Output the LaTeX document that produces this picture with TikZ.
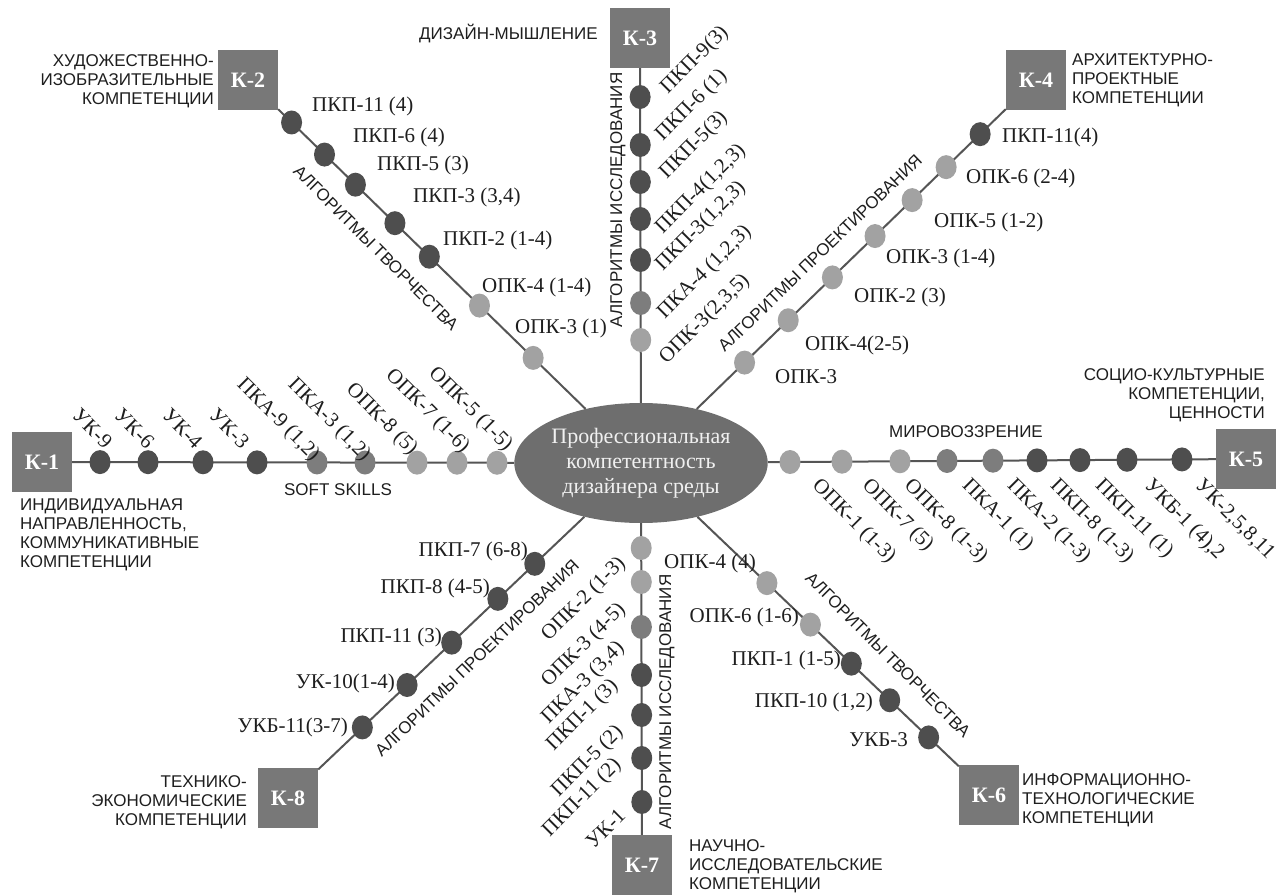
\documentclass[tikz,border=0pt]{standalone}
\usepackage{fontspec}
\setmainfont{Liberation Serif}
\newfontfamily\capfont{Liberation Sans}
\usetikzlibrary{shapes.geometric,calc}
\definecolor{boxgray}{HTML}{787878}
\definecolor{ellgray}{HTML}{6E6E6E}
\definecolor{linegray}{HTML}{555555}
\definecolor{dk}{HTML}{4E4E4E}
\definecolor{md}{HTML}{7D7D7D}
\definecolor{lt}{HTML}{A2A2A2}
\definecolor{txt}{HTML}{1E1E1E}
\tikzset{
  kbox/.style={rectangle, fill=boxgray, minimum width=60pt, minimum height=60pt, inner sep=0pt, text=white, font=\fontsize{22}{22}\selectfont\bfseries},
  hub/.style={ellipse, fill=ellgray, minimum width=238pt, minimum height=120pt, inner sep=0pt, text=white!94!black, align=center, font=\fontsize{22}{25}\selectfont},
  conn/.style={draw=linegray, line width=2pt},
  cdot/.style={ellipse, minimum width=21pt, minimum height=24pt, inner sep=0pt},
  lab/.style={inner sep=0pt, text=txt, font=\fontsize{21}{23}\selectfont},
  captxt/.style={inner sep=0pt, text=txt, font=\capfont\fontsize{17}{19}\selectfont},
  rl/.style={lab, rotate=-45},
  ru/.style={lab, rotate=45}
}
\begin{document}
\begin{tikzpicture}[x=1pt,y=-1pt]
\useasboundingbox (0,0) rectangle (1288,896);
% central node and boxes
\node[hub] (c) at (641,463) {Профессиональная\\компетентность\\дизайнера среды};
\node[kbox] (k1) at (42,462) {К-1};
\node[kbox] (k2) at (248,80) {К-2};
\node[kbox] (k3) at (640,38) {К-3};
\node[kbox] (k4) at (1036,80) {К-4};
\node[kbox] (k5) at (1246,459) {К-5};
\node[kbox] (k6) at (989,795) {К-6};
\node[kbox] (k7) at (642,865) {К-7};
\node[kbox] (k8) at (288,798) {К-8};
% connectors
\draw[conn] (c) -- (k1);
\draw[conn] (c) -- (k2);
\draw[conn] (c) -- (k3);
\draw[conn] (c) -- (k4);
\draw[conn] (c) -- (k5);
\draw[conn] (c) -- (k6);
\draw[conn] (c) -- (k7);
\draw[conn] (c) -- (k8);
% K-1 dots
\node[cdot,fill=dk] (d1a) at ($(c)!(100,462)!(k1)$) {};
\node[cdot,fill=dk] (d1b) at ($(c)!(148,462)!(k1)$) {};
\node[cdot,fill=dk] (d1c) at ($(c)!(203,462)!(k1)$) {};
\node[cdot,fill=dk] (d1d) at ($(c)!(257,462)!(k1)$) {};
\node[cdot,fill=md] (d1e) at ($(c)!(317,462)!(k1)$) {};
\node[cdot,fill=md] (d1f) at ($(c)!(365,462)!(k1)$) {};
\node[cdot,fill=lt] (d1g) at ($(c)!(417,462)!(k1)$) {};
\node[cdot,fill=lt] (d1h) at ($(c)!(457,462)!(k1)$) {};
\node[cdot,fill=lt] (d1i) at ($(c)!(497,462)!(k1)$) {};
% K-2 dots
\node[cdot,fill=dk] (d2a) at ($(c)!(292,122)!(k2)$) {};
\node[cdot,fill=dk] (d2b) at ($(c)!(325,154)!(k2)$) {};
\node[cdot,fill=dk] (d2c) at ($(c)!(356,184)!(k2)$) {};
\node[cdot,fill=dk] (d2d) at ($(c)!(397,221)!(k2)$) {};
\node[cdot,fill=dk] (d2e) at ($(c)!(429,257)!(k2)$) {};
\node[cdot,fill=lt] (d2f) at ($(c)!(480,305)!(k2)$) {};
\node[cdot,fill=lt] (d2g) at ($(c)!(533,358)!(k2)$) {};
% K-3 dots
\node[cdot,fill=dk] (d3a) at ($(c)!(640,97)!(k3)$) {};
\node[cdot,fill=dk] (d3b) at ($(c)!(640,145)!(k3)$) {};
\node[cdot,fill=dk] (d3c) at ($(c)!(640,182)!(k3)$) {};
\node[cdot,fill=dk] (d3d) at ($(c)!(640,219)!(k3)$) {};
\node[cdot,fill=dk] (d3e) at ($(c)!(640,260)!(k3)$) {};
\node[cdot,fill=md] (d3f) at ($(c)!(640,303)!(k3)$) {};
\node[cdot,fill=lt] (d3g) at ($(c)!(640,340)!(k3)$) {};
% K-4 dots
\node[cdot,fill=dk] (d4a) at ($(c)!(981,135)!(k4)$) {};
\node[cdot,fill=lt] (d4b) at ($(c)!(947,168)!(k4)$) {};
\node[cdot,fill=lt] (d4c) at ($(c)!(914,202)!(k4)$) {};
\node[cdot,fill=lt] (d4d) at ($(c)!(876,237)!(k4)$) {};
\node[cdot,fill=lt] (d4e) at ($(c)!(833,278)!(k4)$) {};
\node[cdot,fill=lt] (d4f) at ($(c)!(788,320)!(k4)$) {};
\node[cdot,fill=lt] (d4g) at ($(c)!(744,362)!(k4)$) {};
% K-5 dots
\node[cdot,fill=lt] (d5a) at ($(c)!(790,459)!(k5)$) {};
\node[cdot,fill=lt] (d5b) at ($(c)!(842,459)!(k5)$) {};
\node[cdot,fill=lt] (d5c) at ($(c)!(900,459)!(k5)$) {};
\node[cdot,fill=md] (d5d) at ($(c)!(947,459)!(k5)$) {};
\node[cdot,fill=md] (d5e) at ($(c)!(993,459)!(k5)$) {};
\node[cdot,fill=dk] (d5f) at ($(c)!(1037,459)!(k5)$) {};
\node[cdot,fill=dk] (d5g) at ($(c)!(1080,459)!(k5)$) {};
\node[cdot,fill=dk] (d5h) at ($(c)!(1127,459)!(k5)$) {};
\node[cdot,fill=dk] (d5i) at ($(c)!(1182,459)!(k5)$) {};
% K-6 dots
\node[cdot,fill=lt] (d6a) at ($(c)!(768,582)!(k6)$) {};
\node[cdot,fill=lt] (d6b) at ($(c)!(812,623)!(k6)$) {};
\node[cdot,fill=dk] (d6c) at ($(c)!(852,663)!(k6)$) {};
\node[cdot,fill=dk] (d6d) at ($(c)!(890,700)!(k6)$) {};
\node[cdot,fill=dk] (d6e) at ($(c)!(931,735)!(k6)$) {};
% K-7 dots
\node[cdot,fill=lt] (d7a) at ($(c)!(642,548)!(k7)$) {};
\node[cdot,fill=lt] (d7b) at ($(c)!(642,582)!(k7)$) {};
\node[cdot,fill=md] (d7c) at ($(c)!(642,627)!(k7)$) {};
\node[cdot,fill=dk] (d7d) at ($(c)!(642,675)!(k7)$) {};
\node[cdot,fill=dk] (d7e) at ($(c)!(642,715)!(k7)$) {};
\node[cdot,fill=dk] (d7f) at ($(c)!(642,758)!(k7)$) {};
\node[cdot,fill=dk] (d7g) at ($(c)!(642,802)!(k7)$) {};
% K-8 dots
\node[cdot,fill=dk] (d8a) at ($(c)!(533,562)!(k8)$) {};
\node[cdot,fill=dk] (d8b) at ($(c)!(497,598)!(k8)$) {};
\node[cdot,fill=dk] (d8c) at ($(c)!(452,643)!(k8)$) {};
\node[cdot,fill=dk] (d8d) at ($(c)!(407,685)!(k8)$) {};
\node[cdot,fill=dk] (d8e) at ($(c)!(360,725)!(k8)$) {};
% K-1 labels
\node[rl,anchor=east] (l1a) at (109,445) {УК-9};
\node[rl,anchor=east] (l1b) at (151,445) {УК-6};
\node[rl,anchor=east] (l1c) at (199,445) {УК-4};
\node[rl,anchor=east] (l1d) at (246,445) {УК-3};
\node[rl,anchor=east] (l1e) at (316,458) {ПКА-9 (1,2)};
\node[rl,anchor=east] (l1f) at (367,458) {ПКА-3 (1,2)};
\node[rl,anchor=east] (l1g) at (414,452) {ОПК-8 (5)};
\node[rl,anchor=east] (l1h) at (466,450) {ОПК-7 (1-6)};
\node[rl,anchor=east] (l1i) at (509,448) {ОПК-5 (1-5)};
% K-2 labels
\node[lab,anchor=west] (l2a) at (312,106) {ПКП-11 (4)};
\node[lab,anchor=west] (l2b) at (353,137) {ПКП-6 (4)};
\node[lab,anchor=west] (l2c) at (377,165) {ПКП-5 (3)};
\node[lab,anchor=west] (l2d) at (413,197) {ПКП-3 (3,4)};
\node[lab,anchor=west] (l2e) at (443,240) {ПКП-2 (1-4)};
\node[lab,anchor=west] (l2f) at (482,287) {ОПК-4 (1-4)};
\node[lab,anchor=west] (l2g) at (515,328) {ОПК-3 (1)};
% K-3 labels
\node[ru,anchor=south west] (l3a) at (671,98) {ПКП-9(3)};
\node[ru,anchor=south west] (l3b) at (666,145) {ПКП-6 (1)};
\node[ru,anchor=south west] (l3c) at (670,183) {ПКП-5(3)};
\node[ru,anchor=south west] (l3d) at (666,238) {ПКП-4(1,2,3)};
\node[ru,anchor=south west] (l3e) at (666,275) {ПКП-3(1,2,3)};
\node[ru,anchor=south west] (l3f) at (668,323) {ПКА-4 (1,2,3)};
\node[ru,anchor=south west] (l3g) at (670,368) {ОПК-3(2,3,5)};
% K-4 labels
\node[lab,anchor=west] (l4a) at (1002,137) {ПКП-11(4)};
\node[lab,anchor=west] (l4b) at (966,178) {ОПК-6 (2-4)};
\node[lab,anchor=west] (l4c) at (934,222) {ОПК-5 (1-2)};
\node[lab,anchor=west] (l4d) at (886,258) {ОПК-3 (1-4)};
\node[lab,anchor=west] (l4e) at (854,297) {ОПК-2 (3)};
\node[lab,anchor=west] (l4f) at (805,345) {ОПК-4(2-5)};
\node[lab,anchor=west] (l4g) at (775,377) {ОПК-3};
% K-5 labels
\node[rl,anchor=west] (l5a) at (815,483) {ОПК-1 (1-3)};
\node[rl,anchor=west] (l5b) at (865,483) {ОПК-7 (5)};
\node[rl,anchor=west] (l5c) at (907,483) {ОПК-8 (1-3)};
\node[rl,anchor=west] (l5d) at (965,483) {ПКА-1 (1)};
\node[rl,anchor=west] (l5e) at (1010,483) {ПКА-2 (1-3)};
\node[rl,anchor=west] (l5f) at (1053,483) {ПКП-8 (1-3)};
\node[rl,anchor=west] (l5g) at (1098,483) {ПКП-11 (1)};
\node[rl,anchor=west] (l5h) at (1147,483) {УКБ-1 (4),2};
\node[rl,anchor=west] (l5i) at (1198,483) {УК-2,5,8,11};
% K-6 labels
\node[lab,anchor=east] (l6a) at (756,563) {ОПК-4 (4)};
\node[lab,anchor=east] (l6b) at (799,617) {ОПК-6 (1-6)};
\node[lab,anchor=east] (l6c) at (841,660) {ПКП-1 (1-5)};
\node[lab,anchor=east] (l6d) at (873,702) {ПКП-10 (1,2)};
\node[lab,anchor=east] (l6e) at (908,740) {УКБ-3};
% K-7 labels
\node[ru,anchor=south west] (l7a) at (552,645) {ОПК-2 (1-3)};
\node[ru,anchor=south west] (l7b) at (552,691) {ОПК-3 (4-5)};
\node[ru,anchor=south west] (l7c) at (552,728) {ПКА-3 (3,4)};
\node[ru,anchor=south west] (l7d) at (557,755) {ПКП-1 (3)};
\node[ru,anchor=south west] (l7e) at (562,801) {ПКП-5 (2)};
\node[ru,anchor=south west] (l7f) at (553,841) {ПКП-11 (2)};
\node[ru,anchor=south west] (l7g) at (594,850) {УК-1};
% K-8 labels
\node[lab,anchor=east] (l8a) at (528,551) {ПКП-7 (6-8)};
\node[lab,anchor=east] (l8b) at (490,588) {ПКП-8 (4-5)};
\node[lab,anchor=east] (l8c) at (442,637) {ПКП-11 (3)};
\node[lab,anchor=east] (l8d) at (395,683) {УК-10(1-4)};
\node[lab,anchor=east] (l8e) at (348,727) {УКБ-11(3-7)};
% captions
\node[captxt,anchor=east,align=right] (t2) at (214,81) {ХУДОЖЕСТВЕННО-\\ИЗОБРАЗИТЕЛЬНЫЕ\\КОМПЕТЕНЦИИ};
\node[captxt,anchor=east] (t3) at (598,34) {ДИЗАЙН-МЫШЛЕНИЕ};
\node[captxt,anchor=west,align=left] (t4) at (1072,80) {АРХИТЕКТУРНО-\\ПРОЕКТНЫЕ\\КОМПЕТЕНЦИИ};
\node[captxt,anchor=east,align=right] (t5) at (1265,395) {СОЦИО-КУЛЬТУРНЫЕ\\КОМПЕТЕНЦИИ,\\ЦЕННОСТИ};
\node[captxt,anchor=west,align=left] (t1) at (20,535) {ИНДИВИДУАЛЬНАЯ\\НАПРАВЛЕННОСТЬ,\\КОММУНИКАТИВНЫЕ\\КОМПЕТЕНЦИИ};
\node[captxt,anchor=east,align=right] (t8) at (247,802) {ТЕХНИКО-\\ЭКОНОМИЧЕСКИЕ\\КОМПЕТЕНЦИИ};
\node[captxt,anchor=west,align=left] (t7) at (689,866) {НАУЧНО-\\ИССЛЕДОВАТЕЛЬСКИЕ\\КОМПЕТЕНЦИИ};
\node[captxt,anchor=west,align=left] (t6) at (1022,800) {ИНФОРМАЦИОННО-\\ТЕХНОЛОГИЧЕСКИЕ\\КОМПЕТЕНЦИИ};
\node[captxt] (s1) at (338,490) {SOFT SKILLS};
\node[captxt] (s5) at (966,432) {МИРОВОЗЗРЕНИЕ};
\node[captxt,rotate=-45] (a2) at (376,248) {АЛГОРИТМЫ ТВОРЧЕСТВА};
\node[captxt,rotate=90] (a3) at (618,200) {АЛГОРИТМЫ ИССЛЕДОВАНИЯ};
\node[captxt,rotate=44] (a4) at (820,253) {АЛГОРИТМЫ ПРОЕКТИРОВАНИЯ};
\node[captxt,rotate=44] (a8) at (477,658) {АЛГОРИТМЫ ПРОЕКТИРОВАНИЯ};
\node[captxt,rotate=-45] (a6) at (888,655) {АЛГОРИТМЫ ТВОРЧЕСТВА};
\node[captxt,rotate=90] (a7) at (667,702) {АЛГОРИТМЫ ИССЛЕДОВАНИЯ};
\end{tikzpicture}
\end{document}
